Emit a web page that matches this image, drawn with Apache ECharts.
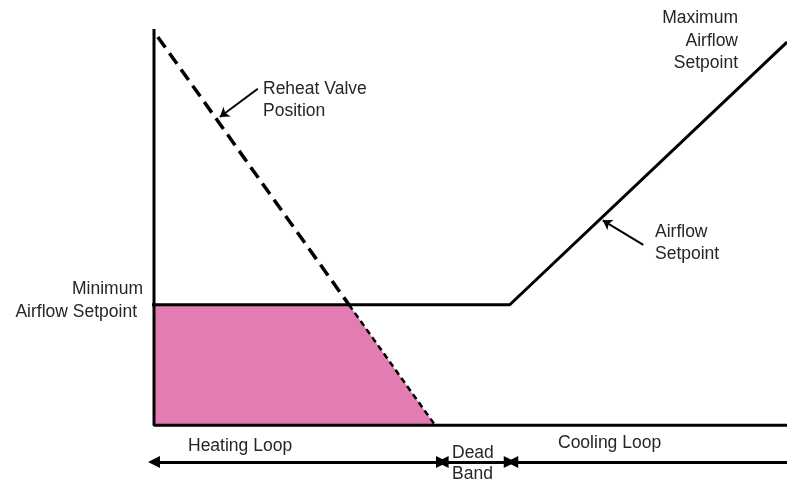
<!DOCTYPE html>
<html>
<head>
<meta charset="utf-8">
<script src="https://cdn.jsdelivr.net/npm/echarts@6/dist/echarts.min.js"></script>
<style>
  html, body { margin: 0; padding: 0; background: #fff; }
  #main { width: 787px; height: 483px; }
</style>
</head>
<body>
<div id="main"></div>
<script>
// x: control signal (0-100), y: percent (0-100)
var minAirflow = 30.4;
var maxAirflow = 96.7;
var deadBandStart = 44.4;
var deadBandEnd = 56.2;

var airflowX = [-1.3, deadBandEnd, 100];
var airflowY = [minAirflow, minAirflow, maxAirflow];

var valveX = [0.6, 30.8, deadBandStart];
var valveY = [98, minAirflow, 0];

var loopY = -9.3;
var heatingLoop = [0, 45.5];
var deadBand = [45.6, 56.2];
var coolingLoop = [56.6, 100];

var font = "'Liberation Sans', Arial, sans-serif";
var ink = '#262626';

function pairs(xs, ys) {
	return xs.map(function (x, i) { return [x, ys[i]]; });
}

function text(str, x, y, align) {
	return {
		type: 'text',
		x: x,
		y: y,
		style: {
			text: str,
			fill: ink,
			font: '17.5px ' + font,
			textAlign: align || 'left',
			textVerticalAlign: 'middle'
		}
	};
}

var myChart = echarts.init(document.getElementById('main'));
var option = {
	animation: false,
	grid: {left: 154, right: 0, top: 29, bottom: 0},
	xAxis: {type: 'value', min: 0, max: 100, show: false},
	yAxis: {type: 'value', min: -14.6, max: 100, show: false},
	series: [
		{
			// shaded reheat area
			type: 'line',
			data: [[0, minAirflow], [valveX[1], valveY[1]], [valveX[2], valveY[2]]],
			symbol: 'none',
			lineStyle: {width: 0},
			areaStyle: {color: '#e37cb0', opacity: 1},
			z: 1
		},
		{
			// axes
			type: 'line',
			data: [[0, 100], [0, 0], [100, 0]],
			symbol: 'none',
			lineStyle: {color: '#000', width: 3},
			z: 3
		},
		{
			name: 'Airflow Setpoint',
			type: 'line',
			data: pairs(airflowX, airflowY),
			symbol: 'none',
			clip: false,
			lineStyle: {color: '#000', width: 3},
			z: 3
		},
		{
			name: 'Reheat Valve Position',
			type: 'line',
			data: pairs(valveX.slice(0, 2), valveY.slice(0, 2)),
			symbol: 'none',
			lineStyle: {color: '#000', width: 3.5, type: [13, 7]},
			z: 4
		},
		{
			type: 'line',
			data: pairs(valveX.slice(1), valveY.slice(1)),
			symbol: 'none',
			lineStyle: {color: '#000', width: 2.5, type: [6, 4]},
			z: 4
		},
		{
			// loop arrows and pointers
			type: 'line',
			data: [],
			markLine: {
				silent: true,
				animation: false,
				label: {show: false},
				emphasis: {disabled: true},
				symbol: ['triangle', 'triangle'],
				symbolSize: 12,
				lineStyle: {color: '#000', width: 3, type: 'solid'},
				data: [
					[{coord: [heatingLoop[0], loopY]}, {coord: [heatingLoop[1], loopY]}],
					[{coord: [deadBand[0], loopY]}, {coord: [deadBand[1], loopY]}],
					[{coord: [coolingLoop[0], loopY]}, {coord: [coolingLoop[1], loopY], symbol: 'none'}],
					[{coord: [16.4, 84.9], symbol: 'none', lineStyle: {width: 2}}, {coord: [10.4, 77.8], symbol: 'arrow', symbolSize: 9}],
					[{coord: [77.3, 45.5], symbol: 'none', lineStyle: {width: 2}}, {coord: [70.9, 51.7], symbol: 'arrow', symbolSize: 9}]
				]
			}
		}
	],
	graphic: [
		text('Reheat Valve', 263, 89),
		text('Position', 263, 111),
		text('Maximum', 738, 18, 'right'),
		text('Airflow', 738, 41, 'right'),
		text('Setpoint', 738, 63, 'right'),
		text('Airflow', 655, 232),
		text('Setpoint', 655, 254),
		text('Minimum', 143, 289, 'right'),
		text('Airflow Setpoint', 137, 312, 'right'),
		text('(shaded area = reheat)', 172, 397),
		text('Heating Loop', 188, 446),
		text('Dead', 452, 453),
		text('Band', 452, 474),
		text('Cooling Loop', 558, 443)
	]
};
myChart.setOption(option);
</script>
</body>
</html>
